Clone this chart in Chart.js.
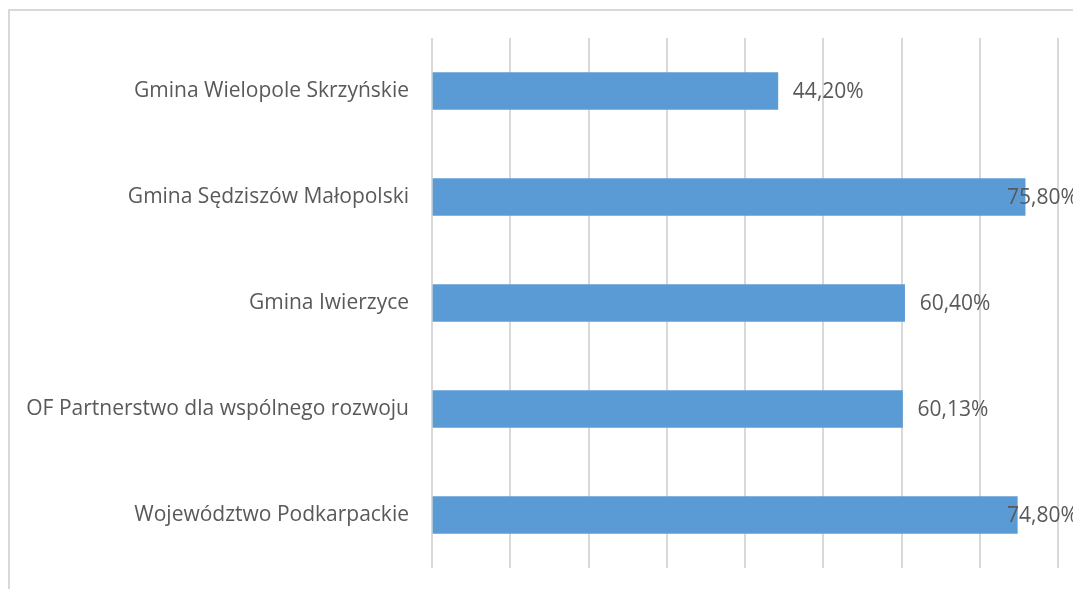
<!DOCTYPE html>
<html>
<head>
<meta charset="utf-8">
<script src="https://cdn.jsdelivr.net/npm/chart.js@4"></script>
<style>
  html, body { margin: 0; padding: 0; background: #fff; }
  #wrap { width: 1073px; height: 589px; position: relative; }
</style>
</head>
<body>
<div id="wrap"><canvas id="chart" width="1073" height="589"></canvas></div>
<script>
// kategorie i wartości
const categories = [
  'Gmina Wielopole Skrzyńskie',
  'Gmina Sędziszów Małopolski',
  'Gmina Iwierzyce',
  'OF Partnerstwo dla wspólnego rozwoju',
  'Województwo Podkarpackie'
];
const values = [44.20, 75.80, 60.40, 60.13, 74.80];
const xTicks = [0, 10, 20, 30, 40, 50, 60, 70, 80];

const FONT = '"Open Sans", Lato, sans-serif';
const FONT_SIZE = 21;
const TEXT_COLOR = '#595959';

// ramka wokół wykresu
const framePlugin = {
  id: 'frame',
  beforeDraw(chart) {
    const ctx = chart.ctx;
    ctx.save();
    ctx.strokeStyle = '#d9d9d9';
    ctx.lineWidth = 2;
    ctx.strokeRect(9, 10, chart.width + 20, chart.height + 20);
    ctx.restore();
  }
};

// etykiety wartości przy słupkach
const valueLabels = {
  id: 'valueLabels',
  afterDatasetsDraw(chart) {
    const ctx = chart.ctx;
    const meta = chart.getDatasetMeta(0);
    ctx.save();
    ctx.font = FONT_SIZE + 'px ' + FONT;
    ctx.fillStyle = TEXT_COLOR;
    ctx.textBaseline = 'middle';
    ctx.textAlign = 'left';
    meta.data.forEach((bar, i) => {
      const txt = values[i].toFixed(2).replace('.', ',') + '%';
      // etykiety wychodzące poza obszar przesuwamy w lewo, jak w Excelu
      const x = Math.min(bar.x + 15, chart.chartArea.right - 51);
      ctx.fillText(txt, x, bar.y + 1);
    });
    ctx.restore();
  }
};

new Chart(document.getElementById('chart'), {
  type: 'bar',
  data: {
    labels: categories,
    datasets: [{
      data: values,
      backgroundColor: '#5b9bd5',
      borderWidth: 0,
      barThickness: 37
    }]
  },
  options: {
    indexAxis: 'y',
    responsive: false,
    animation: false,
    layout: { padding: { top: 38, right: 15, bottom: 21, left: 0 } },
    plugins: { legend: { display: false }, tooltip: { enabled: false } },
    scales: {
      x: {
        min: 0,
        max: 80,
        afterBuildTicks(scale) { scale.ticks = xTicks.map(v => ({ value: v })); },
        afterFit(scale) { scale.height = 0; },
        ticks: { display: false },
        grid: { color: '#d9d9d9', lineWidth: 2, drawTicks: false },
        border: { display: false }
      },
      y: {
        afterFit(scale) {
          scale.width = 432;
          scale.paddingTop = 0;
          scale.paddingBottom = 0;
        },
        grid: { display: false, drawTicks: false },
        border: { display: false },
        ticks: {
          padding: 23,
          color: TEXT_COLOR,
          font: { family: FONT, size: FONT_SIZE }
        }
      }
    }
  },
  plugins: [framePlugin, valueLabels]
});
</script>
</body>
</html>
